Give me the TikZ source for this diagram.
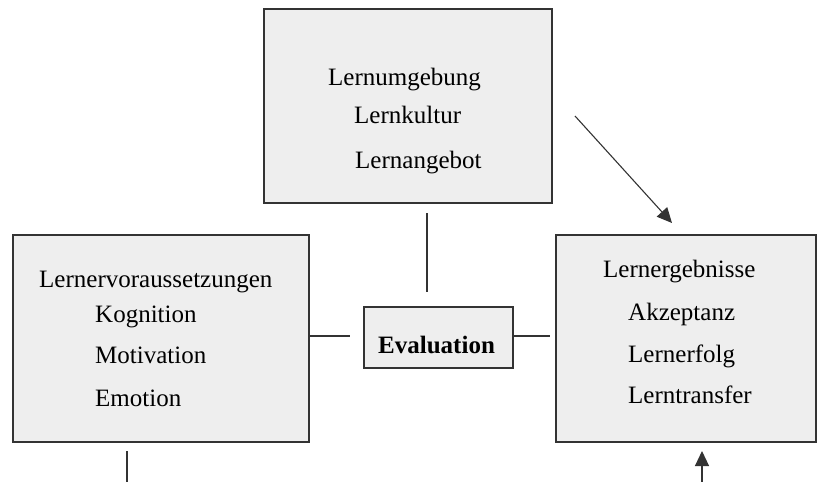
\documentclass[tikz,border=0pt]{standalone}
\usepackage{fontspec}
\setmainfont{Liberation Serif}
\usepackage{tikz}
\usetikzlibrary{arrows.meta, positioning, calc}
\definecolor{boxgray}{HTML}{EEEEEE}
\definecolor{linegray}{HTML}{333333}
\tikzset{
    panel/.style={draw=linegray, line width=1.6pt, fill=boxgray, inner sep=0pt, outer sep=0pt},
    entry/.style={anchor=base west, inner sep=0pt, font=\fontsize{25}{30}\selectfont},
    link/.style={draw=linegray, line width=1.1pt},
    flow/.style={link, -{Triangle[length=15pt, width=14pt]}}
}

\begin{document}
\begin{tikzpicture}[x=1pt, y=-1pt]
    \useasboundingbox (0,0) rectangle (817,482);
    % Boxes
    \node[panel, minimum width=288pt, minimum height=194pt] (umgebung) at (408,106) {};
    \node[panel, minimum width=296pt, minimum height=207pt] (voraus) at (161,338.5) {};
    \node[panel, minimum width=260pt, minimum height=207pt] (ergebnis) at (686,338.5) {};
    \node[panel, line width=1.3pt, minimum width=149pt, minimum height=61pt] (eval) at (438.5,337.5) {};
    % Texts of the top box
    \node[entry] (t1) at (328,85) {Lernumgebung};
    \node[entry] (t2) at (354,123) {Lernkultur};
    \node[entry] (t3) at (355,168) {Lernangebot};
    % Texts of the left box
    \node[entry] (l1) at (39,287) {Lernervoraussetzungen};
    \node[entry] (l2) at (95,322) {Kognition};
    \node[entry] (l3) at (95,363) {Motivation};
    \node[entry] (l4) at (95,406) {Emotion};
    % Texts of the right box
    \node[entry] (r1) at (603,277) {Lernergebnisse};
    \node[entry] (r2) at (628,320) {Akzeptanz};
    \node[entry] (r3) at (628,362) {Lernerfolg};
    \node[entry] (r4) at (628,403) {Lerntransfer};
    % Centre label
    \node[entry, font=\fontsize{25}{30}\selectfont\bfseries] (e1) at (378,353) {Evaluation};
    % Free ends of the connectors
    \coordinate (vtop) at (427,213);
    \coordinate (vbot) at (427,292);
    \coordinate (hleft) at (350,336);
    \coordinate (hright) at (550,336);
    \coordinate (astart) at (575,116);
    \coordinate (aend) at (672,223);
    \coordinate (dtop) at (127,451);
    \coordinate (dbot) at (127,482);
    \coordinate (utop) at (702,451);
    \coordinate (ubot) at (702,482);
    % Connectors
    \draw[link] (vtop) -- (vbot);
    \draw[link] (voraus.east |- hleft) -- (hleft);
    \draw[link] (eval.east |- hright) -- (hright);
    \draw[flow] (astart) -- (aend);
    \draw[link] (dtop) -- (dbot);
    \draw[flow] (ubot) -- (utop);
\end{tikzpicture}
\end{document}
